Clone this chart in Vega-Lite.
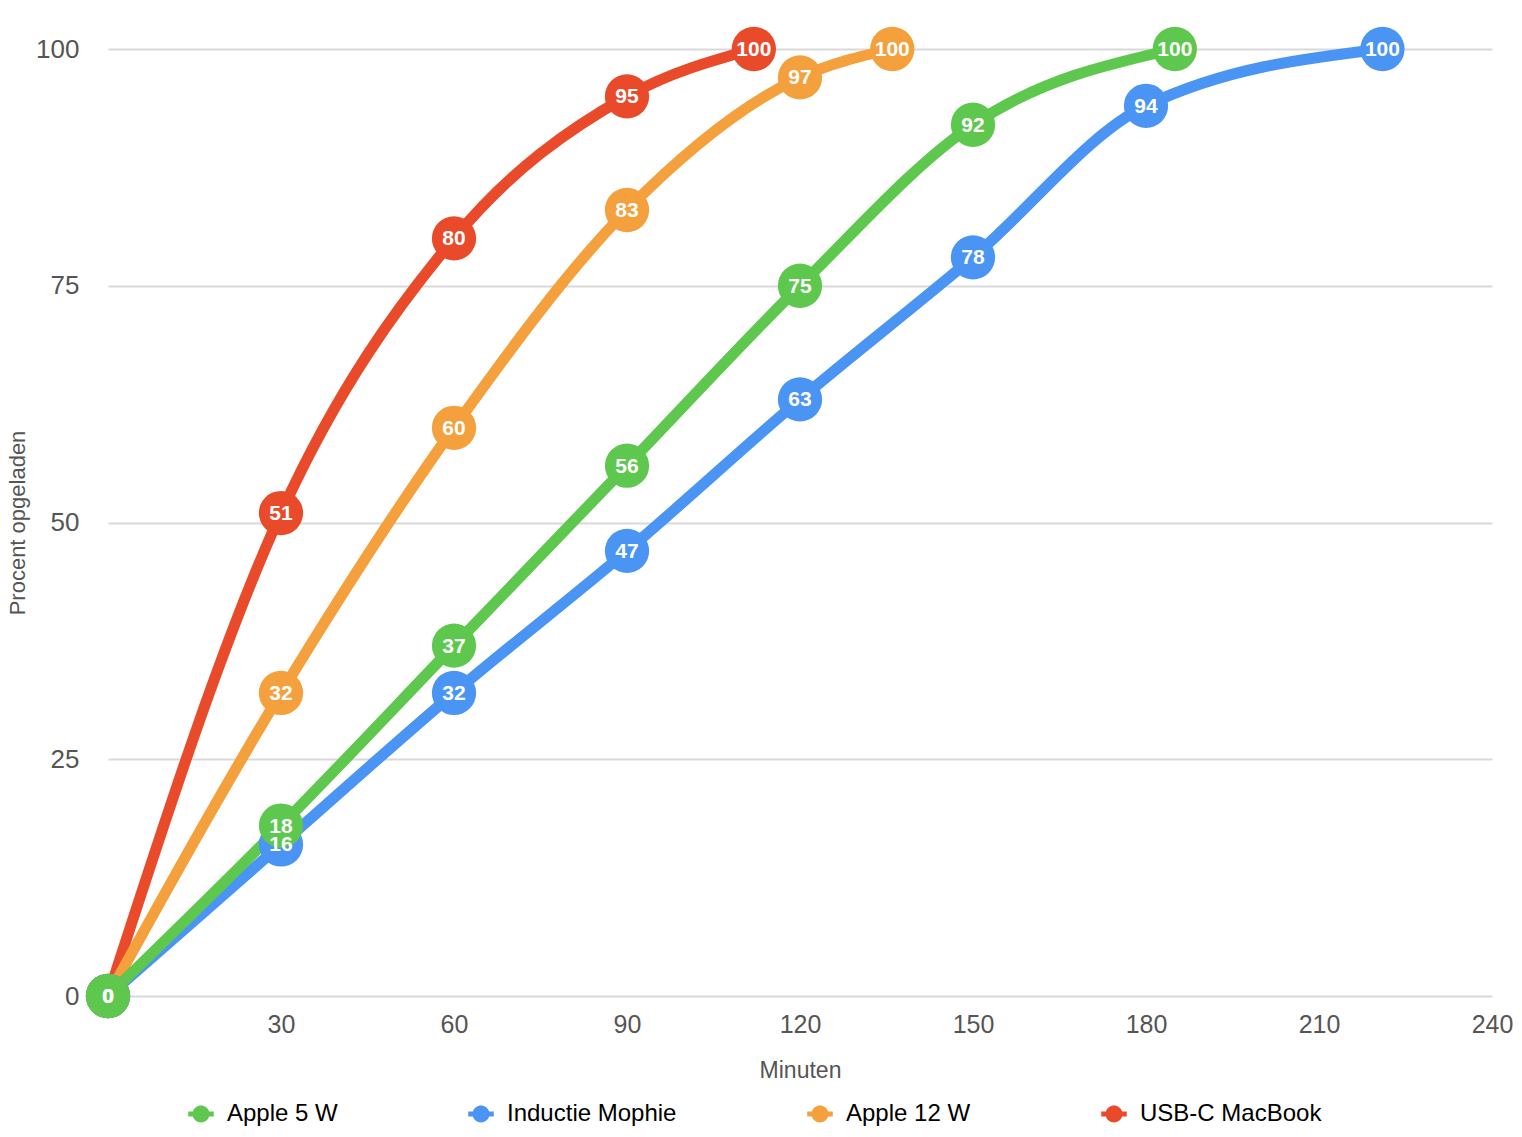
{
  "$schema": "https://vega.github.io/schema/vega-lite/v6.json",
  "width": 1384,
  "height": 947,
  "autosize": {"type": "none"},
  "padding": {"left": 108, "top": 49, "right": 30, "bottom": 141},
  "background": "white",
  "config": {"view": {"stroke": null}},
  "data": {
    "values": [
      {"serie": "USB-C MacBook", "min": 0, "pct": 0},
      {"serie": "USB-C MacBook", "min": 30, "pct": 51},
      {"serie": "USB-C MacBook", "min": 60, "pct": 80},
      {"serie": "USB-C MacBook", "min": 90, "pct": 95},
      {"serie": "USB-C MacBook", "min": 112, "pct": 100},
      {"serie": "Apple 12 W", "min": 0, "pct": 0},
      {"serie": "Apple 12 W", "min": 30, "pct": 32},
      {"serie": "Apple 12 W", "min": 60, "pct": 60},
      {"serie": "Apple 12 W", "min": 90, "pct": 83},
      {"serie": "Apple 12 W", "min": 120, "pct": 97},
      {"serie": "Apple 12 W", "min": 136, "pct": 100},
      {"serie": "Inductie Mophie", "min": 0, "pct": 0},
      {"serie": "Inductie Mophie", "min": 30, "pct": 16},
      {"serie": "Inductie Mophie", "min": 60, "pct": 32},
      {"serie": "Inductie Mophie", "min": 90, "pct": 47},
      {"serie": "Inductie Mophie", "min": 120, "pct": 63},
      {"serie": "Inductie Mophie", "min": 150, "pct": 78},
      {"serie": "Inductie Mophie", "min": 180, "pct": 94},
      {"serie": "Inductie Mophie", "min": 221, "pct": 100},
      {"serie": "Apple 5 W", "min": 0, "pct": 0},
      {"serie": "Apple 5 W", "min": 30, "pct": 18},
      {"serie": "Apple 5 W", "min": 60, "pct": 37},
      {"serie": "Apple 5 W", "min": 90, "pct": 56},
      {"serie": "Apple 5 W", "min": 120, "pct": 75},
      {"serie": "Apple 5 W", "min": 150, "pct": 92},
      {"serie": "Apple 5 W", "min": 185, "pct": 100}
    ]
  },
  "encoding": {
    "x": {
      "field": "min",
      "type": "quantitative",
      "scale": {"domain": [0, 240], "nice": false},
      "axis": {
        "title": "Minuten",
        "values": [30, 60, 90, 120, 150, 180, 210, 240],
        "grid": false,
        "domain": false,
        "ticks": false,
        "labelFlush": false,
        "labelFont": "Liberation Sans",
        "labelFontSize": 25,
        "labelColor": "#555555",
        "labelPadding": 16,
        "titleFont": "Liberation Sans",
        "titleFontSize": 23,
        "titleFontWeight": "normal",
        "titleColor": "#555555",
        "titlePadding": 22
      }
    },
    "y": {
      "field": "pct",
      "type": "quantitative",
      "scale": {"domain": [0, 100], "nice": false},
      "axis": {
        "title": "Procent opgeladen",
        "values": [0, 25, 50, 75, 100],
        "grid": true,
        "gridColor": "#d9d9d9",
        "gridWidth": 2,
        "domain": false,
        "ticks": false,
        "labelFlush": false,
        "labelFont": "Liberation Sans",
        "labelFontSize": 26,
        "labelColor": "#555555",
        "labelPadding": 29,
        "titleFont": "Liberation Sans",
        "titleFontSize": 22,
        "titleFontWeight": "normal",
        "titleColor": "#555555",
        "titlePadding": 6
      }
    },
    "color": {
      "field": "serie",
      "type": "nominal",
      "scale": {
        "domain": ["Apple 5 W", "Inductie Mophie", "Apple 12 W", "USB-C MacBook"],
        "range": ["#5dc84d", "#4a94f4", "#f4a03c", "#e94a2a"]
      },
      "legend": {
        "title": null,
        "orient": "none",
        "legendX": 81,
        "legendY": 1053,
        "direction": "horizontal",
        "symbolType": "M-1.5,-0.3 L-0.954,-0.3 A1,1 0 0 1 0.954,-0.3 L1.5,-0.3 L1.5,0.3 L0.954,0.3 A1,1 0 0 1 -0.954,0.3 L-1.5,0.3 Z",
        "symbolSize": 289,
        "symbolStrokeWidth": 0,
        "symbolOpacity": 1,
        "labelFont": "Liberation Sans",
        "labelFontSize": 24,
        "labelColor": "#000000",
        "labelOffset": 14,
        "columnPadding": 130,
        "labelLimit": 400
      }
    }
  },
  "layer": [
    {
      "mark": {"type": "line", "interpolate": "monotone", "strokeWidth": 11, "strokeCap": "round"}
    },
    {
      "mark": {"type": "point", "shape": "circle", "filled": true, "opacity": 1, "size": 1960, "strokeWidth": 0}
    },
    {
      "mark": {"type": "text", "color": "white", "font": "Liberation Sans", "fontSize": 21, "fontWeight": "bold", "align": "center", "baseline": "middle", "dy": 1},
      "encoding": {
        "text": {"field": "pct", "type": "quantitative"},
        "color": {"value": "white"}
      }
    }
  ]
}
